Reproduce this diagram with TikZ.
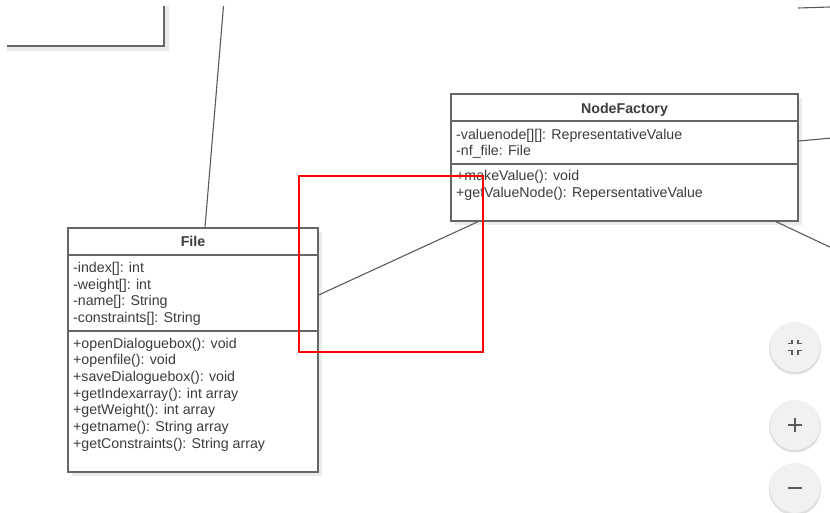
\documentclass[tikz,border=0pt]{standalone}
\usepackage{fontspec}
\setmainfont{Liberation Sans}
\usetikzlibrary{calc}
\definecolor{txt}{HTML}{3C3C3C}
\definecolor{edge}{HTML}{666666}
\definecolor{conn}{HTML}{5A5A5A}
\definecolor{shade}{HTML}{EBEBEB}
\definecolor{btn}{HTML}{F1F1F1}
\definecolor{btnshadow}{HTML}{DEDEDE}
\definecolor{icon}{HTML}{5A5A5A}
\tikzset{
  classbox/.style={draw=edge, line width=1.4pt, fill=white, inner sep=0pt, rectangle},
  shadowbox/.style={fill=shade, draw=none, inner sep=0pt, rectangle},
  sepline/.style={draw=edge, line width=1.2pt},
  member/.style={anchor=base west, inner sep=0pt, text=txt, font=\fontsize{14.2}{16}\selectfont},
  title/.style={anchor=base, inner sep=0pt, text=txt, font=\fontsize{14.2}{16}\selectfont\bfseries},
  connector/.style={draw=conn, line width=1.1pt},
  marker/.style={draw=red, line width=2pt, fill=none, inner sep=0pt, rectangle},
  zoombtn/.style={circle, fill=btn, draw=none, minimum size=50pt, inner sep=0pt},
  btnshade/.style={circle, fill=btnshadow, draw=none, minimum size=52pt, inner sep=0pt},
  iconline/.style={draw=icon, line width=1.6pt}
}
\begin{document}
\begin{tikzpicture}[x=1pt,y=-1pt]
\useasboundingbox (0,0) rectangle (830,513);
\begin{scope}
\clip (7,7) rectangle (830,513);

% top-left partial box
\node[shadowbox, minimum width=264pt, minimum height=146pt] at (37,-22) {};
\node[classbox, minimum width=264pt, minimum height=146pt] (tl) at (32,-27) {};

% free ends of connectors
\coordinate (topin) at (224,0);
\coordinate (trA) at (798,8);
\coordinate (trB) at (830,7);
\coordinate (rightout) at (832,138);
\coordinate (brout) at (834,249);

% File box
\node[shadowbox, minimum width=250pt, minimum height=244pt] at (197,354) {};
\node[classbox, minimum width=250pt, minimum height=244pt] (file) at (193,350) {};
\draw[sepline] (68,255) -- (318,255);
\draw[sepline] (68,331) -- (318,331);

% NodeFactory box
\node[shadowbox, minimum width=347pt, minimum height=127pt] at (628.5,161.5) {};
\node[classbox, minimum width=347pt, minimum height=127pt] (nf) at (624.5,157.5) {};
\draw[sepline] (451,121) -- (798,121);
\draw[sepline] (451,164) -- (798,164);

\draw[connector] (topin) -- ([xshift=12pt]file.north);
\draw[connector] (trA) -- (trB);
\draw[connector] ([yshift=16.5pt]nf.east) -- (rightout);
\draw[connector] ([xshift=151.5pt]nf.south) -- (brout);
\draw[connector] ([yshift=55pt]file.east) -- ([xshift=-146.5pt]nf.south);

% File texts
\node[title] (ftitle) at (193,246.5) {File};
\node[member] (fa1) at (73,272.5) {-index[]: int};
\node[member] (fa2) at (73,289.2) {-weight[]: int};
\node[member] (fa3) at (73,305.9) {-name[]: String};
\node[member] (fa4) at (73,322.5) {-constraints[]: String};
\node[member] (fm1) at (73,348) {+openDialoguebox(): void};
\node[member] (fm2) at (73,364.7) {+openfile(): void};
\node[member] (fm3) at (73,381.3) {+saveDialoguebox(): void};
\node[member] (fm4) at (73,398) {+getIndexarray(): int array};
\node[member] (fm5) at (73,414.7) {+getWeight(): int array};
\node[member] (fm6) at (73,431.3) {+getname(): String array};
\node[member] (fm7) at (73,448) {+getConstraints(): String array};

% NodeFactory texts
\node[title] (ntitle) at (624.5,114) {NodeFactory};
\node[member] (na1) at (456,139.5) {-valuenode[][]: RepresentativeValue};
\node[member] (na2) at (456,156) {-nf\_file: File};
\node[member] (nm1) at (456,181) {+makeValue(): void};
\node[member] (nm2) at (456,198) {+getValueNode(): RepersentativeValue};

% red marker
\node[marker, minimum width=184pt, minimum height=176pt] (mark) at (391,264) {};

% zoom buttons
\node[btnshade] at (795,348.5) {};
\node[zoombtn] (bfit) at (795,347) {};
\node[btnshade] at (795,426.5) {};
\node[zoombtn] (bplus) at (795,425) {};
\node[btnshade] at (795,489.5) {};
\node[zoombtn] (bminus) at (795,488) {};

% fit icon
\draw[iconline] (788,343.5) -- (792,343.5) -- (792,339.5);
\draw[iconline] (802,343.5) -- (798,343.5) -- (798,339.5);
\draw[iconline] (788,350.5) -- (792,350.5) -- (792,354.5);
\draw[iconline] (802,350.5) -- (798,350.5) -- (798,354.5);
% plus icon
\draw[iconline] (788,425) -- (802,425);
\draw[iconline] (795,418) -- (795,432);
% minus icon
\draw[iconline] (788,488) -- (802,488);
\end{scope}
\end{tikzpicture}
\end{document}
